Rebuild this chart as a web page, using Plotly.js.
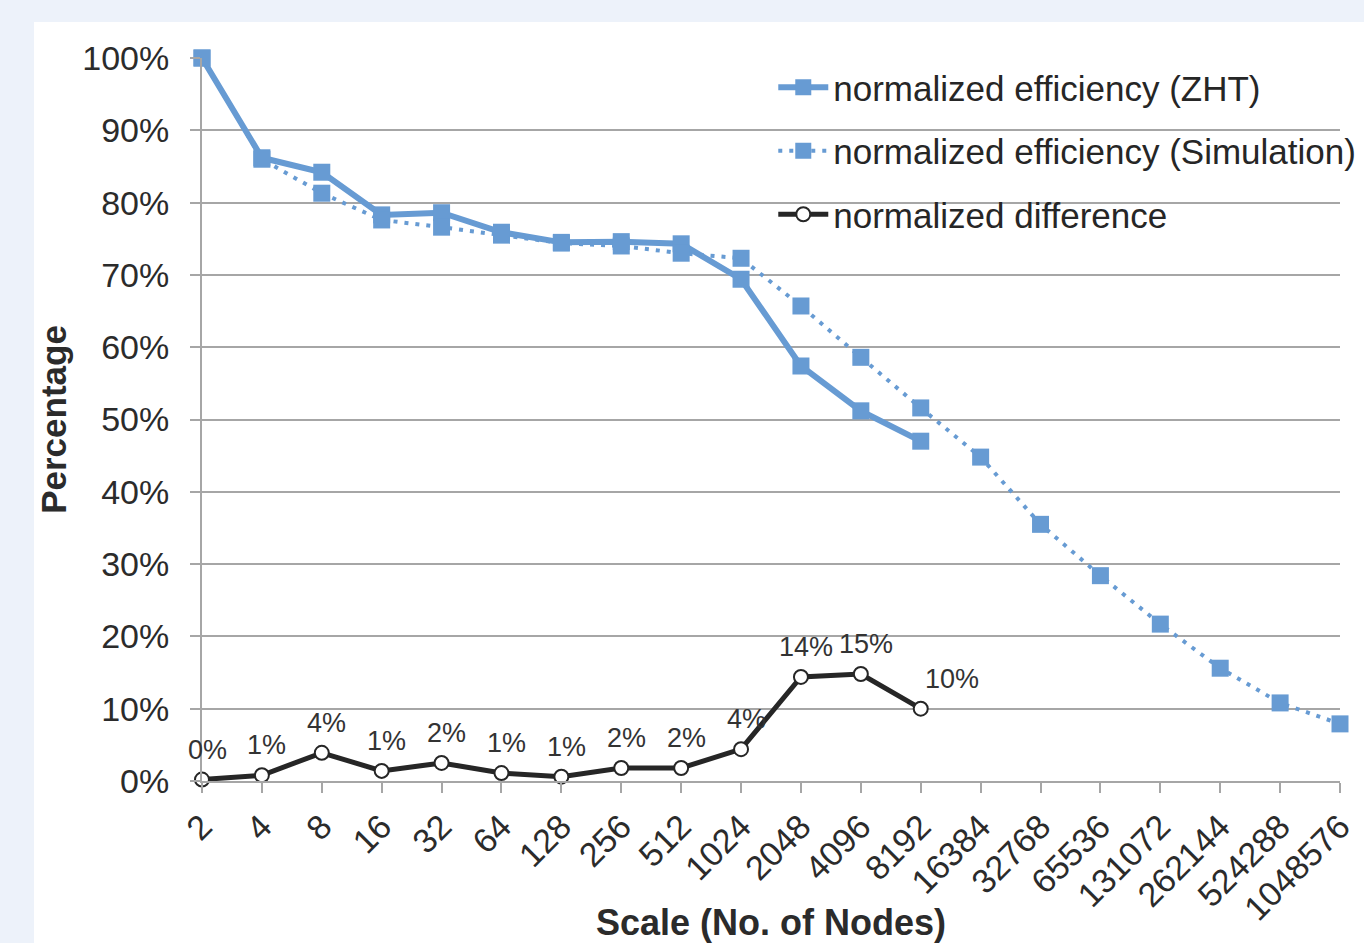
<!DOCTYPE html>
<html>
<head>
<meta charset="utf-8">
<script src="https://cdn.plot.ly/plotly-3.0.1.min.js"></script>
<style>
  html, body { margin: 0; padding: 0; background: #edf2fa; width: 1364px; height: 943px; overflow: hidden; }
  #chart { position: absolute; left: 34px; top: 22px; width: 1330px; height: 921px; }
</style>
</head>
<body>
<div id="chart"></div>
<script>
const categories = ['2','4','8','16','32','64','128','256','512','1024','2048','4096','8192','16384','32768','65536','131072','262144','524288','1048576'];
const zhtEfficiency = [100, 86.2, 84.2, 78.3, 78.6, 75.9, 74.5, 74.6, 74.3, 69.4, 57.4, 51.2, 47.0];
const simEfficiency = [100, 86.0, 81.3, 77.6, 76.6, 75.5, 74.4, 74.0, 73.0, 72.3, 65.7, 58.6, 51.6, 44.8, 35.5, 28.4, 21.7, 15.6, 10.8, 7.9];
const difference = [0.2, 0.8, 3.9, 1.4, 2.5, 1.1, 0.6, 1.8, 1.8, 4.4, 14.4, 14.8, 10.0];
const differenceLabels = ['0%','1%','4%','1%','2%','1%','1%','2%','2%','4%','14%','15%','10%'];

const blue = '#679bd3';
const dark = '#262626';
const font = '"Liberation Sans", Arial, sans-serif';

const toFrac = a => a.map(v => v / 100);

const traces = [
  {
    x: categories.slice(0, zhtEfficiency.length), y: toFrac(zhtEfficiency),
    name: 'normalized efficiency (ZHT)', legendgroup: 'a',
    mode: 'lines+markers', cliponaxis: false,
    line: {color: blue, width: 6},
    marker: {symbol: 'square', size: 17, color: blue}
  },
  {
    x: categories.slice(0, simEfficiency.length), y: toFrac(simEfficiency),
    name: 'normalized efficiency (Simulation)', legendgroup: 'b',
    mode: 'lines+markers', cliponaxis: false,
    line: {color: blue, width: 4, dash: '4px,7px'},
    marker: {symbol: 'square', size: 17, color: blue}
  },
  {
    x: categories.slice(0, difference.length), y: toFrac(difference),
    name: 'normalized difference', legendgroup: 'c',
    mode: 'lines+markers', cliponaxis: false,
    line: {color: dark, width: 5},
    marker: {symbol: 'circle', size: 14, color: '#ffffff', line: {color: dark, width: 2}}
  }
];

// annotation x uses the category index on the category axis
const annotations = differenceLabels.map((t, i) => ({
  x: i, y: difference[i] / 100, xref: 'x', yref: 'y',
  text: t, showarrow: false,
  yshift: 30, xshift: i === differenceLabels.length - 1 ? 31 : 5,
  font: {family: font, size: 27, color: '#333333'}
}));

const layout = {
  width: 1330, height: 921,
  margin: {l: 168, r: 24, t: 36, b: 162, autoexpand: false},
  paper_bgcolor: '#ffffff', plot_bgcolor: '#ffffff',
  font: {family: font, color: '#2b2b2b'},
  showlegend: true,
  legend: {
    x: 0.502, y: 1.0, xanchor: 'left', yanchor: 'top',
    bgcolor: 'rgba(0,0,0,0)', borderwidth: 0,
    font: {family: font, size: 35, color: '#262626'},
    itemwidth: 50, tracegroupgap: 15, traceorder: 'grouped'
  },
  xaxis: {
    type: 'category', range: [0, 19], fixedrange: true, automargin: false,
    tickangle: -45, tickfont: {family: font, size: 34, color: '#2b2b2b'},
    ticks: 'outside', ticklen: 10, tickcolor: '#a6a6a6', tickwidth: 2,
    showline: true, linecolor: '#a6a6a6', linewidth: 2,
    showgrid: false,
    title: {text: '<b>Scale (No. of Nodes)</b>', font: {family: font, size: 36, color: '#2b2b2b'}, standoff: 0}
  },
  yaxis: {
    range: [0, 1], dtick: 0.1, tick0: 0, tickformat: '.0%', automargin: false,
    tickfont: {family: font, size: 34, color: '#2b2b2b'},
    ticks: 'outside', ticklen: 10, tickcolor: '#a6a6a6', tickwidth: 2,
    ticklabelstandoff: 14,
    showline: true, linecolor: '#a6a6a6', linewidth: 2,
    showgrid: true, gridcolor: '#a6a6a6', gridwidth: 2,
    zeroline: false,
    title: {text: '<b>Percentage</b>', font: {family: font, size: 35, color: '#2b2b2b'}, standoff: 9}
  },
  annotations: annotations
};

Plotly.newPlot('chart', traces, layout, {staticPlot: true, displayModeBar: false});
</script>
</body>
</html>
